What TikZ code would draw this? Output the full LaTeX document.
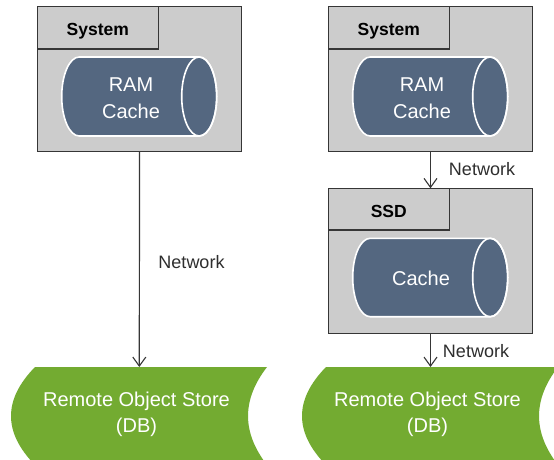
\documentclass[tikz,border=0pt]{standalone}
\usepackage{fontspec}
\setmainfont{Liberation Sans}
\usetikzlibrary{arrows.meta}
\definecolor{boxgray}{HTML}{CCCCCC}
\definecolor{boxline}{HTML}{363636}
\definecolor{cylblue}{HTML}{546780}
\definecolor{dbgreen}{HTML}{73AB31}
\definecolor{txtdark}{HTML}{2E2E2E}
\tikzset{
  sysbox/.style={draw=boxline, fill=boxgray, line width=1.3pt, inner sep=0pt, outer sep=0pt, anchor=north west},
  tabbox/.style={draw=boxline, fill=boxgray, line width=1.3pt, inner sep=0pt, outer sep=0pt, anchor=north west,
     font=\fontsize{17.5}{20}\selectfont\bfseries, text=black, text height=16pt, text depth=0pt},
  cylbody/.style={fill=cylblue, draw=white, line width=1.6pt},
  cyltext/.style={text=white, align=center, font=\fontsize{20}{27}\selectfont, inner sep=0pt},
  dbshape/.style={fill=dbgreen, draw=none},
  dbtext/.style={text=white, align=center, font=\fontsize{20}{26}\selectfont, inner sep=0pt},
  nettext/.style={text=txtdark, font=\fontsize{18}{20}\selectfont, inner sep=0pt},
  arr/.style={draw=boxline, line width=1.2pt, -{Straight Barb[length=9pt,width=13pt,line width=1.1pt]}},
}
\begin{document}
\begin{tikzpicture}[x=1pt,y=-1pt]
\useasboundingbox (0,0) rectangle (554,459);
\clip (0,0) rectangle (554,459);
\fill[white] (0,0) rectangle (554,459);

% ---------- left: System with RAM cache ----------
\node[sysbox, minimum width=204.4pt, minimum height=145pt] (sysL) at (37.3,6.7) {};
\node[tabbox, minimum width=121pt, minimum height=42.3pt] (tabL) at (37.3,6.7) {System};
\path[cylbody] (199.2,57) -- (79.2,57) arc[start angle=90,end angle=270,x radius=17.5pt,y radius=39.5pt]
  -- (199.2,136) arc[start angle=-90,end angle=90,x radius=17.5pt,y radius=39.5pt] -- cycle;
\draw[white, line width=1.6pt] (199.2,96.5) ellipse [x radius=17.5pt, y radius=39.5pt];
\node[cyltext] (ramL) at (131,98.5) {RAM\\Cache};

% left DB
\path[dbshape] (35,367) -- (267,367) .. controls (241.7,399.7) and (241.7,432.3) .. (267,465)
  -- (35,465) .. controls (3,432.3) and (3,399.7) .. (35,367) -- cycle;
\coordinate (dbLtop) at (139.3,367);
\node[dbtext] (dbL) at (136.5,414) {Remote Object Store\\(DB)};

\draw[arr] (sysL.south) -- (dbLtop);
\node[nettext] (netL) at (191.5,262) {Network};

% ---------- right: System with RAM cache ----------
\node[sysbox, minimum width=204.4pt, minimum height=145pt] (sysR) at (328.3,6.7) {};
\node[tabbox, minimum width=121pt, minimum height=42.3pt] (tabR) at (328.3,6.7) {System};
\path[cylbody] (490.2,57) -- (370.2,57) arc[start angle=90,end angle=270,x radius=17.5pt,y radius=39.5pt]
  -- (490.2,136) arc[start angle=-90,end angle=90,x radius=17.5pt,y radius=39.5pt] -- cycle;
\draw[white, line width=1.6pt] (490.2,96.5) ellipse [x radius=17.5pt, y radius=39.5pt];
\node[cyltext] (ramR) at (422,98.5) {RAM\\Cache};

% SSD
\node[sysbox, minimum width=204.4pt, minimum height=145pt] (ssd) at (328.3,188.3) {};
\node[tabbox, minimum width=121pt, minimum height=41.7pt] (tabS) at (328.3,188.3) {SSD};
\path[cylbody] (490.2,238.3) -- (370.2,238.3) arc[start angle=90,end angle=270,x radius=17.5pt,y radius=39.2pt]
  -- (490.2,316.7) arc[start angle=-90,end angle=90,x radius=17.5pt,y radius=39.2pt] -- cycle;
\draw[white, line width=1.6pt] (490.2,277.5) ellipse [x radius=17.5pt, y radius=39.2pt];
\node[cyltext] (cacheS) at (421,278.5) {Cache};

% right DB
\path[dbshape] (326,367) -- (558,367) .. controls (532.7,399.7) and (532.7,432.3) .. (558,465)
  -- (326,465) .. controls (294,432.3) and (294,399.7) .. (326,367) -- cycle;
\coordinate (dbRtop) at (430.5,367);
\node[dbtext] (dbR) at (427.5,414) {Remote Object Store\\(DB)};

\draw[arr] (sysR.south) -- (ssd.north);
\draw[arr] (ssd.south) -- (dbRtop);
\node[nettext] (netR1) at (482,169) {Network};
\node[nettext] (netR2) at (476,351) {Network};
\end{tikzpicture}
\end{document}
